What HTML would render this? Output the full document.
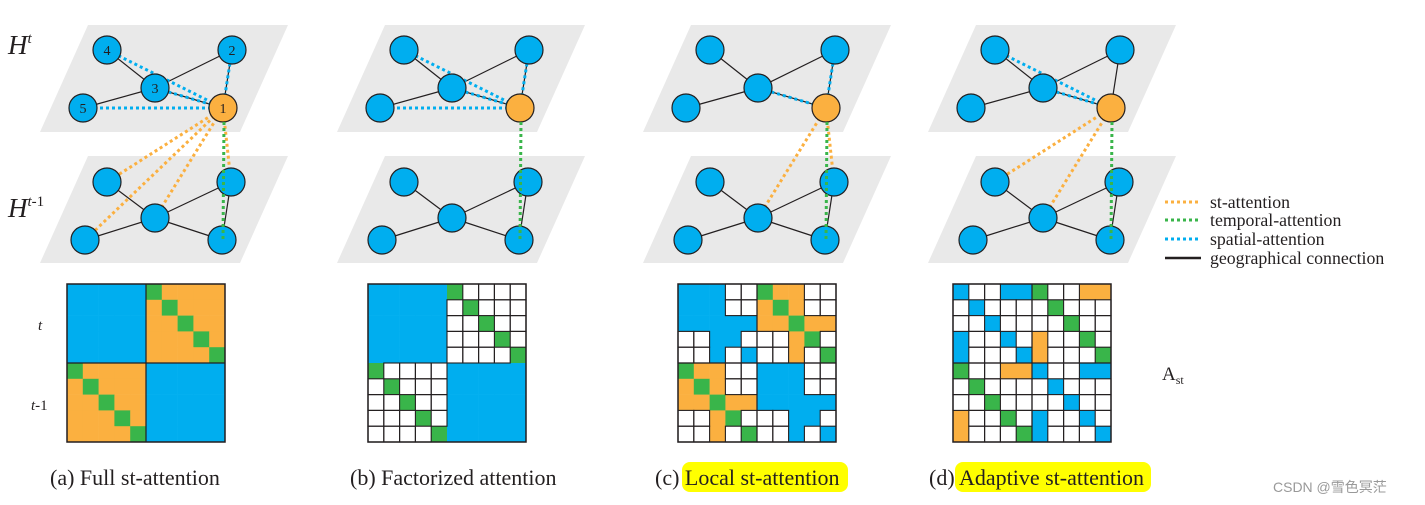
<!DOCTYPE html>
<html><head><meta charset="utf-8"><style>
html,body{margin:0;padding:0;background:#fff;width:1425px;height:505px;overflow:hidden}
svg{display:block}
text{font-family:"Liberation Serif",serif;fill:#231f20}
</style></head><body>
<svg id="s" width="1425" height="505" viewBox="0 0 1425 505" xmlns="http://www.w3.org/2000/svg">
<text x="8" y="54" font-size="27" font-style="italic">H<tspan font-size="15" dy="-11">t</tspan></text>
<text x="8" y="217" font-size="27" font-style="italic">H<tspan font-size="15" dy="-11">t</tspan><tspan font-size="15" font-style="normal">-1</tspan></text>
<text x="38" y="330" font-size="15" font-style="italic">t</text>
<text x="31" y="410" font-size="15"><tspan font-style="italic">t</tspan>-1</text>
<text x="1162" y="380" font-size="19">A<tspan font-size="12" dy="4">st</tspan></text>
<rect x="682" y="462" width="166" height="30" rx="8" fill="#ffff00"/>
<rect x="955" y="462" width="196" height="30" rx="8" fill="#ffff00"/>
<text x="50" y="485" font-size="22">(a) Full st-attention</text>
<text x="350" y="485" font-size="22">(b) Factorized attention</text>
<text x="655" y="485" font-size="22">(c) Local st-attention</text>
<text x="929" y="485" font-size="22">(d) Adaptive st-attention</text>
<text x="1273" y="492" font-size="14" style="font-family:'Liberation Sans','Noto Sans CJK SC',sans-serif;fill:#999">CSDN @雪色冥茫</text>
<g stroke-width="3" stroke-dasharray="3,3">
<line x1="1165" y1="202" x2="1201" y2="202" stroke="#FBB040"/>
<line x1="1165" y1="220" x2="1201" y2="220" stroke="#39B54A"/>
<line x1="1165" y1="239" x2="1201" y2="239" stroke="#00AEEF"/>
</g>
<line x1="1165" y1="258" x2="1201" y2="258" stroke="#231f20" stroke-width="2.5"/>
<text x="1210" y="208" font-size="17.8">st-attention</text>
<text x="1210" y="226" font-size="17.8">temporal-attention</text>
<text x="1210" y="245" font-size="17.8">spatial-attention</text>
<text x="1210" y="264" font-size="17.8">geographical connection</text>
</svg>
<script>
(function(){
var S=document.getElementById('s'),NS='http://www.w3.org/2000/svg';
function el(t,a){var e=document.createElementNS(NS,t);for(var k in a)e.setAttribute(k,a[k]);S.appendChild(e);return e;}
var B='#00AEEF',O='#FBB040',G='#39B54A';
var offs=[0,297,603,888];
var TP=[[223,108],[232,50],[155,88],[107,50],[83,108]];
var BT=[[222,240],[231,182],[155,218],[107,182],[85,240]];
var edges=[[3,2],[1,2],[4,2],[2,0],[1,0]];
var att=[
 {b:[3,2,4,1],o:[3,4,2,1]},
 {b:[3,2,4,1],o:[]},
 {b:[2,1],o:[2,1]},
 {b:[3,2],o:[3,2]}];
offs.forEach(function(dx,pi){
 el('polygon',{points:(88+dx)+',25 '+(288+dx)+',25 '+(240+dx)+',132 '+(40+dx)+',132',fill:'#E9E9E9'});
 el('polygon',{points:(88+dx)+',156 '+(288+dx)+',156 '+(240+dx)+',263 '+(40+dx)+',263',fill:'#E9E9E9'});
 [TP,BT].forEach(function(N){edges.forEach(function(e){el('line',{x1:N[e[0]][0]+dx,y1:N[e[0]][1],x2:N[e[1]][0]+dx,y2:N[e[1]][1],stroke:'#231f20','stroke-width':1.2});});});
 var a=att[pi],c=TP[0];
 a.b.forEach(function(i){el('line',{x1:c[0]+dx,y1:c[1],x2:TP[i][0]+dx,y2:TP[i][1],stroke:B,'stroke-width':3,'stroke-dasharray':'3,3'});});
 a.o.forEach(function(i){el('line',{x1:c[0]+dx,y1:c[1],x2:BT[i][0]+dx,y2:BT[i][1],stroke:O,'stroke-width':3,'stroke-dasharray':'3,3'});});
 [TP,BT].forEach(function(N,t){N.forEach(function(p,i){el('circle',{cx:p[0]+dx,cy:p[1],r:14,fill:(t==0&&i==0)?O:B,stroke:'#231f20','stroke-width':1.2});});});
 el('line',{x1:c[0]+dx+1,y1:c[1]+14,x2:BT[0][0]+dx+1,y2:BT[0][1],stroke:G,'stroke-width':3,'stroke-dasharray':'3,3'});
 if(pi==0){['1','2','3','4','5'].forEach(function(t,i){var x=el('text',{x:TP[i][0],y:TP[i][1]+5,'font-size':14,'text-anchor':'middle'});x.textContent=t;});}
});
function mat(x0,y0,grid,lines){
 var cs=15.8;
 for(var r=0;r<10;r++)for(var c=0;c<10;c++){
  var ch=grid[r][c],f=ch=='b'?B:ch=='o'?O:ch=='g'?G:'#fff';
  el('rect',{x:x0+c*cs,y:y0+r*cs,width:cs+0.3,height:cs+0.3,fill:f});
 }
 for(var r=0;r<10;r++)for(var c=0;c<10;c++){
  if(grid[r][c]=='w')el('rect',{x:x0+c*cs,y:y0+r*cs,width:cs,height:cs,fill:'none',stroke:'#231f20','stroke-width':1.1});
 }
 if(lines){el('line',{x1:x0+5*cs,y1:y0,x2:x0+5*cs,y2:y0+10*cs,stroke:'#231f20','stroke-width':1.2});el('line',{x1:x0,y1:y0+5*cs,x2:x0+10*cs,y2:y0+5*cs,stroke:'#231f20','stroke-width':1.2});}
 el('rect',{x:x0,y:y0,width:10*cs,height:10*cs,fill:'none',stroke:'#231f20','stroke-width':1.5});
}
function gen(off){var g=[];for(var r=0;r<10;r++){var row='';for(var c=0;c<10;c++){var same=(r<5)==(c<5);if(same)row+='b';else if(r%5==c%5)row+='g';else row+=off;}g.push(row);}return g;}
mat(67,284,gen('o'),true);
mat(368,284,gen('w'),false);
mat(678,284,[
'bbbwwgooww',
'bbbwwogoww',
'bbbbboogoo',
'wwbbwwwogw',
'wwbwbwwowg',
'goowwbbbww',
'ogowwbbbww',
'oogoobbbbb',
'wwogwwwbbw',
'wwowgwwbwb'],true);
mat(953,284,[
'bwwbbgwwoo',
'wbwwwwgwww',
'wwbwwwwgww',
'bwwbwowwgw',
'bwwwbowwwg',
'gwwoobwwbb',
'wgwwwwbwww',
'wwgwwwwbww',
'owwgwbwwbw',
'owwwgbwwwb'],true);
})();
</script>
</body></html>
